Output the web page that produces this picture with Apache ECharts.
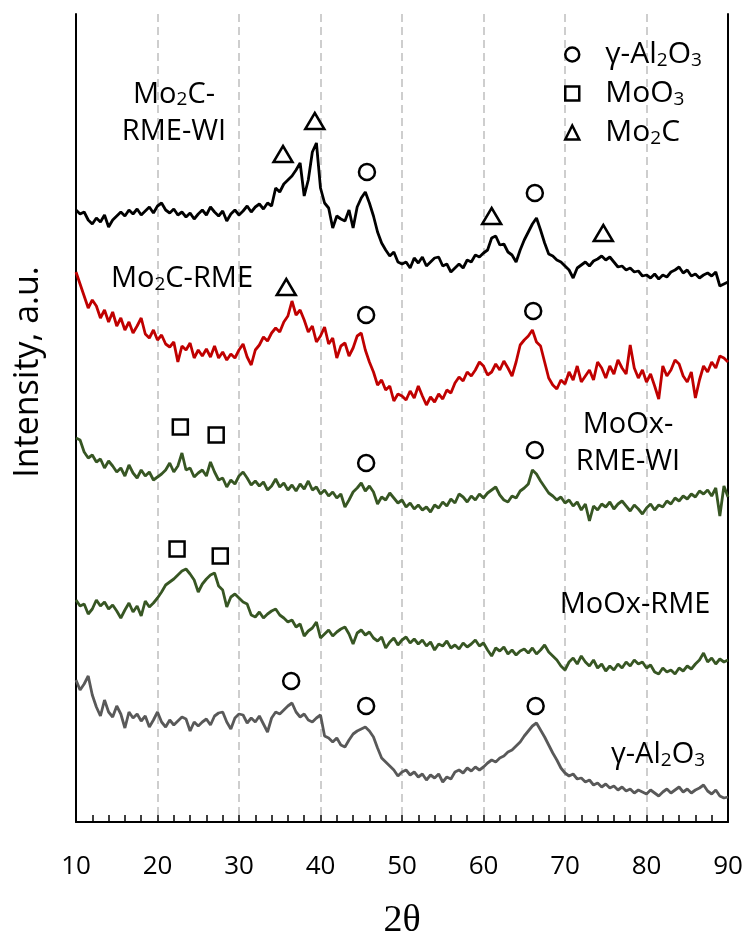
<!DOCTYPE html>
<html><head><meta charset="utf-8">
<script src="https://cdn.jsdelivr.net/npm/echarts@6/dist/echarts.min.js"></script>
<style>html,body{margin:0;padding:0;background:#fff}#c{width:748px;height:931px}</style>
</head><body><div id="c"></div>
<script>
// 2θ sampling (degrees)
const twoTheta = [
10,10.5,11,11.5,12,12.5,13,13.5,14,14.5,
15,15.5,16,16.5,17,17.5,18,18.5,19,19.5,
20,20.5,21,21.5,22,22.5,23,23.5,24,24.5,
25,25.5,26,26.5,27,27.5,28,28.5,29,29.5,
30,30.5,31,31.5,32,32.5,33,33.5,34,34.5,
35,35.5,36,36.5,37,37.5,38,38.5,39,39.5,
40,40.5,41,41.5,42,42.5,43,43.5,44,44.5,
45,45.5,46,46.5,47,47.5,48,48.5,49,49.5,
50,50.5,51,51.5,52,52.5,53,53.5,54,54.5,
55,55.5,56,56.5,57,57.5,58,58.5,59,59.5,
60,60.5,61,61.5,62,62.5,63,63.5,64,64.5,
65,65.5,66,66.5,67,67.5,68,68.5,69,69.5,
70,70.5,71,71.5,72,72.5,73,73.5,74,74.5,
75,75.5,76,76.5,77,77.5,78,78.5,79,79.5,
80,80.5,81,81.5,82,82.5,83,83.5,84,84.5,
85,85.5,86,86.5,87,87.5,88,88.5,89,89.5,
90];

// Intensity (a.u., stacked offsets as in the figure)
const mo2cRmeWi = [
612,608,610,602,598,604,600,607,595,602,
606,610,606,612,608,613,607,611,615,609,
616,619,612,609,613,607,610,605,609,603,
608,612,607,615,610,606,611,601,608,612,
607,611,616,610,615,618,613,619,616,634,
630,638,642,646,652,659,626,642,670,679,
634,619,614,594,606,603,601,612,594,615,
624,630,619,606,590,579,572,566,570,560,
558,560,554,564,559,565,556,560,564,565,
556,558,550,554,558,554,562,560,567,565,
569,572,584,586,577,578,570,567,560,572,
582,590,598,604,592,579,568,566,562,560,
556,552,544,554,557,560,556,561,563,566,
562,565,560,555,556,552,554,550,551,546,
547,544,548,543,547,545,550,552,555,549,
552,546,548,544,547,549,546,550,536,538,
540];

const mo2cRme = [
550,538,526,514,522,516,504,512,500,510,
496,504,492,500,489,496,504,488,484,492,
482,487,478,475,480,460,476,472,479,464,
472,466,473,465,476,464,470,462,468,464,
472,478,465,457,472,477,485,481,489,494,
490,500,506,521,507,512,502,490,496,480,
486,495,478,484,464,476,479,466,474,486,
489,472,460,450,437,442,432,436,421,428,
426,422,431,424,436,426,417,425,420,428,
423,432,429,439,445,441,450,446,452,460,
456,447,450,458,452,461,454,446,460,477,
482,486,492,480,476,460,444,437,433,442,
438,450,442,456,440,446,452,442,460,454,
444,456,448,462,454,448,477,454,444,452,
440,448,436,423,456,446,452,462,458,446,
440,450,424,442,456,450,460,454,466,464,
460];

const moOxRmeWi = [
384,382,370,364,367,360,363,354,361,356,
350,354,346,357,349,344,352,346,350,342,
345,348,352,359,350,356,369,352,354,345,
349,352,346,360,350,342,344,335,342,338,
346,350,344,337,341,336,340,332,336,343,
335,339,332,337,331,338,333,341,332,335,
328,332,326,330,324,328,315,322,330,334,
339,331,336,330,318,325,322,329,324,319,
322,315,319,313,317,312,315,310,317,314,
320,316,323,319,328,325,320,326,322,328,
324,329,332,335,327,322,320,326,324,331,
334,338,352,348,341,335,329,326,322,325,
319,322,316,320,312,318,301,316,312,318,
315,320,313,318,321,316,311,317,313,308,
314,318,312,317,315,321,318,324,321,326,
323,328,325,331,328,332,326,334,306,336,
325];

const moOxRme = [
222,216,218,208,213,222,216,220,213,217,
211,204,212,219,210,216,206,221,215,219,
224,230,237,240,243,247,251,253,248,242,
230,238,243,247,249,236,232,215,225,228,
224,220,218,207,205,210,204,208,211,213,
207,204,200,202,195,198,186,191,194,200,
184,188,192,186,190,193,195,188,178,189,
192,187,190,184,181,185,174,180,184,177,
182,185,179,183,178,182,176,180,172,178,
176,181,174,177,173,179,175,178,182,176,
179,172,166,174,171,175,168,172,167,171,
173,169,174,168,172,177,170,166,162,156,
152,160,164,158,166,160,156,162,154,158,
151,156,152,158,154,160,156,162,158,160,
154,157,150,148,154,150,152,148,154,151,
156,153,158,162,169,160,164,158,163,160,
162];

const gammaAl2O3 = [
142,132,138,146,127,115,106,122,110,105,
116,108,94,110,104,108,101,106,95,102,
110,100,95,102,97,101,105,103,91,100,
96,100,103,97,106,109,110,100,93,104,
108,107,99,104,100,106,98,90,104,110,
108,112,116,119,110,105,108,102,100,104,
107,86,84,80,84,77,75,82,88,91,
93,95,91,85,74,64,60,56,52,46,
50,52,47,50,45,48,42,47,44,48,
40,45,43,50,52,49,54,51,55,52,
55,59,62,60,64,66,70,72,76,80,
86,91,96,99,92,85,77,69,62,54,
49,46,48,43,44,40,42,37,39,35,
38,34,36,32,35,31,33,29,32,30,
28,32,29,26,30,33,29,32,35,30,
33,29,32,34,37,31,28,32,26,24,
25];

// Phase reflection markers [2θ, intensity]
const peaksAl2O3 = [[45.7,650],[66.3,629],[45.6,507],[66.1,511],[45.6,359],[66.3,372],[36.4,141],[45.6,116],[66.4,116]];
const peaksMoO3 = [[22.8,395],[27.2,387],[22.4,273],[27.7,266]];
const peaksMo2C = [[35.4,668],[39.3,701],[61.0,606],[74.7,589],[35.8,535]];

const FONT = "'Open Sans', sans-serif";

function richSet(main, sub, lh, shift, align) {
  const n = {fontFamily: FONT, fontSize: main, color: '#000', lineHeight: lh};
  const s = {fontFamily: FONT, fontSize: sub, color: '#000', lineHeight: sub + 2, padding: [shift, 0, 0, 0]};
  if (align) { n.align = align; s.align = align; }
  return {n, s};
}

const traces = [
  {name: 'Mo2C-RME-WI', values: mo2cRmeWi, color: '#000000'},
  {name: 'Mo2C-RME', values: mo2cRme, color: '#c00000'},
  {name: 'MoOx-RME-WI', values: moOxRmeWi, color: '#375623'},
  {name: 'MoOx-RME', values: moOxRme, color: '#375623'},
  {name: 'γ-Al2O3 support', values: gammaAl2O3, color: '#595959'}
];

const markerStyle = {color: '#fff', borderColor: '#000', borderWidth: 2.5, opacity: 1};

const series = traces.map(t => ({
  type: 'line', name: t.name, silent: true,
  data: twoTheta.map((x, i) => [x, t.values[i]]),
  showSymbol: false, symbol: 'none',
  lineStyle: {color: t.color, width: 2.8}, itemStyle: {color: t.color}, z: 2
})).concat([
  {type: 'scatter', name: 'γ-Al2O3', data: peaksAl2O3, symbol: 'circle', symbolSize: 16, itemStyle: markerStyle, z: 5},
  {type: 'scatter', name: 'MoO3', data: peaksMoO3, symbol: 'rect', symbolSize: 15, itemStyle: markerStyle, z: 5},
  {type: 'scatter', name: 'Mo2C', data: peaksMo2C, symbol: 'triangle', symbolSize: [19, 16], itemStyle: markerStyle, z: 5}
]);

const legendText = {
  'γ-Al2O3': '{n|γ-Al}{s|2}{n|O}{s|3}',
  'MoO3': '{n|MoO}{s|3}',
  'Mo2C': '{n|Mo}{s|2}{n|C}'
};

const lab = richSet(29, 19, 37, 11, 'center');
function label(x, y, text) {
  return {type: 'text', x: x, y: y, z: 10, silent: true,
    style: {text: text, rich: lab, align: 'center', verticalAlign: 'middle', fontFamily: FONT, fontSize: 29, fill: '#000'}};
}

const option = {
  animation: false,
  backgroundColor: '#fff',
  grid: {left: 76, right: 20, top: 14, bottom: 109, containLabel: false, outerBoundsMode: 'none'},
  xAxis: {
    type: 'value', min: 10, max: 90, interval: 10,
    name: '2θ', nameLocation: 'middle', nameGap: 80,
    nameTextStyle: {fontFamily: "'Liberation Serif', serif", fontSize: 38, color: '#000'},
    axisLine: {show: true, onZero: false, lineStyle: {color: '#000', width: 2}},
    axisTick: {show: true, inside: true, length: 7, lineStyle: {color: '#000', width: 1.5}},
    minorTick: {show: true, splitNumber: 5, length: 7, lineStyle: {color: '#000', width: 1.5}},
    axisLabel: {margin: 32, fontFamily: FONT, fontSize: 26, color: '#000'},
    splitLine: {show: true, lineStyle: {color: '#bfbfbf', width: 1.5, type: [8, 5]}},
    minorSplitLine: {show: false}
  },
  yAxis: [{
    type: 'value', min: 0, max: 808, position: 'left',
    name: 'Intensity, a.u.', nameLocation: 'middle', nameGap: 31, nameRotate: 90,
    nameTextStyle: {fontFamily: FONT, fontSize: 34, color: '#000', padding: [0, 0, 0, 92]},
    axisLine: {show: true, onZero: false, lineStyle: {color: '#000', width: 2}},
    axisTick: {show: false}, axisLabel: {show: false}, splitLine: {show: false}
  }, {
    type: 'value', min: 0, max: 808, position: 'right',
    axisLine: {show: true, onZero: false, lineStyle: {color: '#000', width: 2}},
    axisTick: {show: false}, axisLabel: {show: false}, splitLine: {show: false}
  }],
  legend: {
    data: ['γ-Al2O3', 'MoO3', 'Mo2C'],
    orient: 'vertical', left: 559, top: 34,
    itemWidth: 14, itemHeight: 14, itemGap: 8,
    selectedMode: false,
    itemStyle: {color: '#fff', borderColor: '#000', borderWidth: 2.5},
    formatter: name => legendText[name],
    textStyle: {fontFamily: FONT, fontSize: 30, color: '#000', padding: [0, 0, 0, 21], rich: richSet(30, 19, 34, 12)}
  },
  graphic: [
    label(174, 113, '{n|Mo}{s|2}{n|C-}\n{n|RME-WI}'),
    label(182, 279, '{n|Mo}{s|2}{n|C-RME}'),
    label(628, 443, '{n|MoOx-}\n{n|RME-WI}'),
    label(635, 605, '{n|MoOx-RME}'),
    label(658, 755, '{n|γ-Al}{s|2}{n|O}{s|3}')
  ],
  series: series
};

const chart = echarts.init(document.getElementById('c'), null, {renderer: 'canvas'});
chart.setOption(option);
</script>
</body></html>
